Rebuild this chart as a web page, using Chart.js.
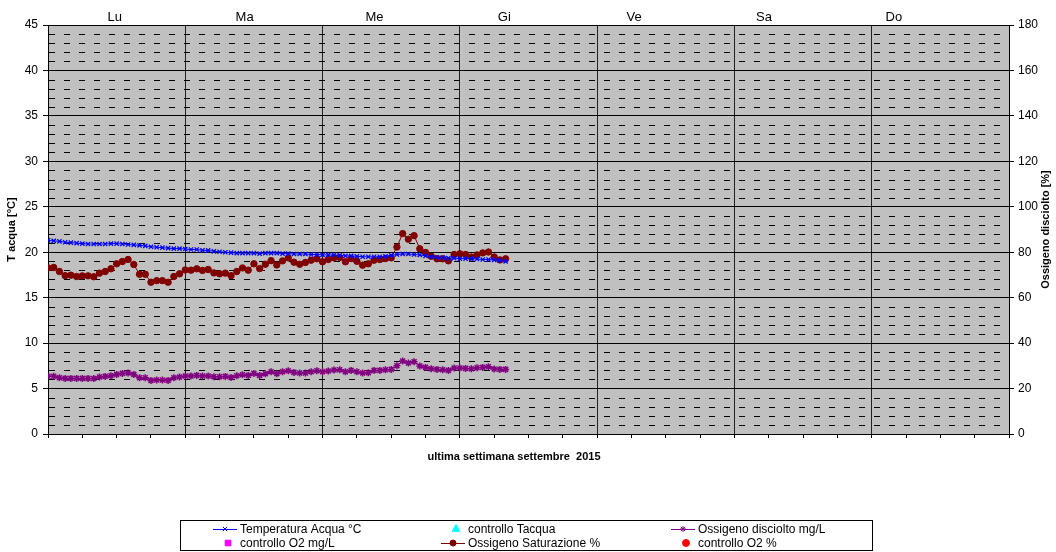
<!DOCTYPE html>
<html><head><meta charset="utf-8">
<script src="https://cdn.jsdelivr.net/npm/chart.js@4.4.0/dist/chart.umd.min.js"></script>
<style>html,body{margin:0;padding:0;background:#fff;overflow:hidden}#wrap{width:1056px;height:552px;position:relative}</style>
</head><body><div id="wrap"><canvas id="c" width="1056" height="552"></canvas></div>
<script>
// ---- data ----
const DAYS = ['Lu','Ma','Me','Gi','Ve','Sa','Do'];
const HOURS = [0,1,2,3,4,5,6,7,8,9,10,11,12,13,14,15,16,17,18,19,20,21,22,23,24,25,26,27,28,29,30,31,32,33,34,35,36,37,38,39,40,41,42,43,44,45,46,47,48,49,50,51,52,53,54,55,56,57,58,59,60,61,62,63,64,65,66,67,68,69,70,71,72,73,74,75,76,77,78,79,80];
const TEMP_ACQUA = [21.3,21.25,21.2,21.1,21.05,21.0,20.95,20.9,20.9,20.9,20.9,20.95,20.95,20.9,20.85,20.8,20.75,20.7,20.6,20.55,20.5,20.45,20.4,20.4,20.35,20.3,20.3,20.2,20.2,20.1,20.05,20.0,19.95,19.9,19.9,19.9,19.9,19.85,19.9,19.9,19.9,19.85,19.85,19.8,19.8,19.8,19.75,19.75,19.7,19.7,19.7,19.65,19.6,19.6,19.55,19.5,19.5,19.5,19.5,19.55,19.65,19.75,19.8,19.8,19.75,19.7,19.6,19.5,19.45,19.4,19.35,19.35,19.3,19.3,19.3,19.25,19.2,19.2,19.15,19.1,19.0];
const O2_MGL = [6.35,6.35,6.2,6.12,6.12,6.12,6.12,6.12,6.1,6.27,6.34,6.42,6.56,6.67,6.71,6.56,6.2,6.2,5.9,5.94,5.94,5.9,6.2,6.27,6.38,6.38,6.45,6.38,6.38,6.31,6.31,6.34,6.23,6.42,6.53,6.45,6.67,6.45,6.64,6.86,6.64,6.86,6.95,6.78,6.71,6.71,6.85,6.96,6.85,6.93,7.04,7.07,6.85,7.0,6.85,6.71,6.74,7.0,7.0,7.07,7.11,7.51,8.03,7.81,7.95,7.48,7.33,7.18,7.11,7.07,7.0,7.26,7.26,7.22,7.18,7.29,7.33,7.4,7.15,7.11,7.11];
const O2_SAT = [73.1,73.3,71.5,69.7,69.9,69.3,69.6,69.6,69.2,70.8,71.5,72.7,74.9,75.9,76.8,74.6,70.3,70.3,66.8,67.5,67.5,66.8,69.3,70.5,72.2,72.1,72.7,72.0,72.4,70.9,70.5,70.8,69.7,71.5,73.1,72.1,74.9,72.8,74.7,76.3,74.4,76.2,77.5,75.6,74.7,75.5,76.5,77.1,75.8,76.8,77.5,77.7,75.8,77.2,76.0,74.3,74.9,76.5,76.8,77.2,77.5,82.3,88.2,85.7,87.3,81.5,79.9,78.2,77.1,77.1,76.2,79.0,79.3,79.0,77.9,78.8,79.7,80.1,77.9,76.6,77.1];
const CTRL_TACQUA = [];
const CTRL_O2_MGL = [];
const CTRL_O2_PCT = [];
const LEFT_TITLE = 'T acqua [°C]';
const RIGHT_TITLE = 'Ossigeno disciolto [%]';
const X_TITLE = 'ultima settimana settembre  2015';

const FONT = '"Liberation Sans", Arial, sans-serif';
Chart.defaults.font.family = FONT;
Chart.defaults.color = '#000';

const pts = arr => arr.map((v, i) => ({x: HOURS[i], y: v}));

const bgPlugin = {
  id: 'bg',
  beforeDraw(chart) {
    const {ctx, chartArea: a} = chart;
    ctx.save();
    ctx.fillStyle = '#c0c0c0';
    ctx.fillRect(a.left, a.top, a.right - a.left, a.bottom - a.top);
    ctx.restore();
  },
  beforeDatasetsDraw(chart) {
    const {ctx, chartArea: a} = chart;
    const ys = chart.scales.y;
    ctx.save();
    ctx.strokeStyle = '#000';
    ctx.lineWidth = 1;
    ctx.setLineDash([6, 9]);
    ys.ticks.forEach(t => {
      if (t.value % 5 === 0) return;
      const y = Math.round(ys.getPixelForValue(t.value)) + 0.5;
      ctx.beginPath();
      ctx.moveTo(a.left + 1, y);
      ctx.lineTo(a.right, y);
      ctx.stroke();
    });
    ctx.restore();
  },
  afterDraw(chart) {
    const {ctx, chartArea: a} = chart;
    ctx.save();
    ctx.fillStyle = '#000';
    ctx.font = 'bold 11px ' + FONT;
    ctx.textAlign = 'center';
    ctx.textBaseline = 'middle';
    const cy = (a.top + a.bottom) / 2;
    ctx.save(); ctx.translate(12, cy); ctx.rotate(-Math.PI / 2); ctx.fillText(LEFT_TITLE, 0, 0); ctx.restore();
    ctx.save(); ctx.translate(1046, cy); ctx.rotate(-Math.PI / 2); ctx.fillText(RIGHT_TITLE, 0, 0); ctx.restore();
    ctx.fillText(X_TITLE, 514, 457);
    // legend
    ctx.strokeStyle = '#000';
    ctx.lineWidth = 1;
    ctx.strokeRect(180.5, 520.5, 692, 30);
    ctx.font = '12px ' + FONT;
    ctx.textAlign = 'left';
    const cols = [240, 468, 698];
    const rows = [529, 543];
    chart.data.datasets.forEach((ds, i) => {
      const tx = cols[i % 3], ty = rows[Math.floor(i / 3)];
      ctx.strokeStyle = ds.borderColor;
      ctx.fillStyle = ds.backgroundColor;
      ctx.lineWidth = 1;
      let mx = tx - 12;
      if (ds.showLine !== false) {
        ctx.beginPath(); ctx.moveTo(tx - 27, ty + 0.5); ctx.lineTo(tx - 3, ty + 0.5); ctx.stroke();
        mx = tx - 15;
      }
      Chart.helpers.drawPoint(ctx, {pointStyle: ds.pointStyle, radius: ds.legendRadius || 3, rotation: 0, borderWidth: 1.2}, mx, ty);
      ctx.fillStyle = '#000';
      ctx.fillText(ds.label, tx, ty + 1);
    });
    ctx.restore();
  }
};

new Chart(document.getElementById('c'), {
  type: 'line',
  data: {
    datasets: [
      {label: 'Temperatura Acqua °C', data: pts(TEMP_ACQUA), yAxisID: 'y', borderColor: '#0000ff', backgroundColor: '#0000ff', borderWidth: 1, pointStyle: 'crossRot', pointRadius: 3, pointBorderWidth: 1.3, tension: 0},
      {label: 'controllo Tacqua', data: CTRL_TACQUA, yAxisID: 'y', showLine: false, borderColor: '#00ffff', backgroundColor: '#00ffff', pointStyle: 'triangle', pointRadius: 4, legendRadius: 4.5},
      {label: 'Ossigeno disciolto mg/L', data: pts(O2_MGL), yAxisID: 'y', borderColor: '#800080', backgroundColor: '#800080', borderWidth: 1, pointStyle: 'star', pointRadius: 3.5, pointBorderWidth: 1.5, tension: 0},
      {label: 'controllo O2 mg/L', data: CTRL_O2_MGL, yAxisID: 'y', showLine: false, borderColor: '#ff00ff', backgroundColor: '#ff00ff', pointStyle: 'rect', pointRadius: 4, legendRadius: 4},
      {label: 'Ossigeno Saturazione %', data: pts(O2_SAT), yAxisID: 'y1', borderColor: '#800000', backgroundColor: '#800000', borderWidth: 1, pointStyle: 'circle', pointRadius: 3.2, pointBorderWidth: 1, tension: 0},
      {label: 'controllo O2 %', data: CTRL_O2_PCT, yAxisID: 'y1', showLine: false, borderColor: '#ff0000', backgroundColor: '#ff0000', pointStyle: 'circle', pointRadius: 3, legendRadius: 3.5}
    ]
  },
  options: {
    responsive: false,
    animation: false,
    devicePixelRatio: 1,
    layout: {padding: 0},
    plugins: {legend: {display: false}, tooltip: {enabled: false}},
    elements: {point: {hoverRadius: 3}},
    scales: {
      x: {
        type: 'linear', position: 'bottom', min: 0, max: 168,
        ticks: {stepSize: 6, display: false, autoSkip: false},
        grid: {
          color: c => (c.tick && c.tick.value % 24 === 0) ? '#202020' : 'rgba(0,0,0,0)',
          tickColor: '#000', tickLength: 4, lineWidth: 1
        },
        border: {display: true, color: '#000', width: 1},
        afterFit: s => { s.height = 118; }
      },
      xTop: {
        type: 'linear', position: 'top', min: -0.514, max: 6.887,
        afterBuildTicks: s => { s.ticks = DAYS.map((d, i) => ({value: i})); },
        ticks: {callback: v => DAYS[v], font: {size: 13}, padding: 0, autoSkip: false, maxRotation: 0},
        grid: {display: false, drawTicks: false},
        border: {display: false},
        afterFit: s => { s.height = 25; }
      },
      y: {
        type: 'linear', position: 'left', min: 0, max: 45,
        ticks: {stepSize: 1, autoSkip: false, font: {size: 12}, padding: 5, callback: v => (v % 5 === 0 ? v : '')},
        grid: {
          color: c => (c.tick && c.tick.value % 5 === 0) ? '#000' : 'rgba(0,0,0,0)',
          tickColor: c => (c.tick && c.tick.value % 5 === 0) ? '#000' : 'rgba(0,0,0,0)',
          tickLength: 5, lineWidth: 1
        },
        border: {display: true, color: '#000', width: 1},
        afterFit: s => { s.width = 48; }
      },
      y1: {
        type: 'linear', position: 'right', min: 0, max: 180,
        ticks: {stepSize: 20, autoSkip: false, font: {size: 12}, padding: 4},
        grid: {drawOnChartArea: false, tickColor: '#000', tickLength: 5},
        border: {display: true, color: '#000', width: 1},
        afterFit: s => { s.width = 47; }
      }
    }
  },
  plugins: [bgPlugin]
});
</script>
</body></html>
